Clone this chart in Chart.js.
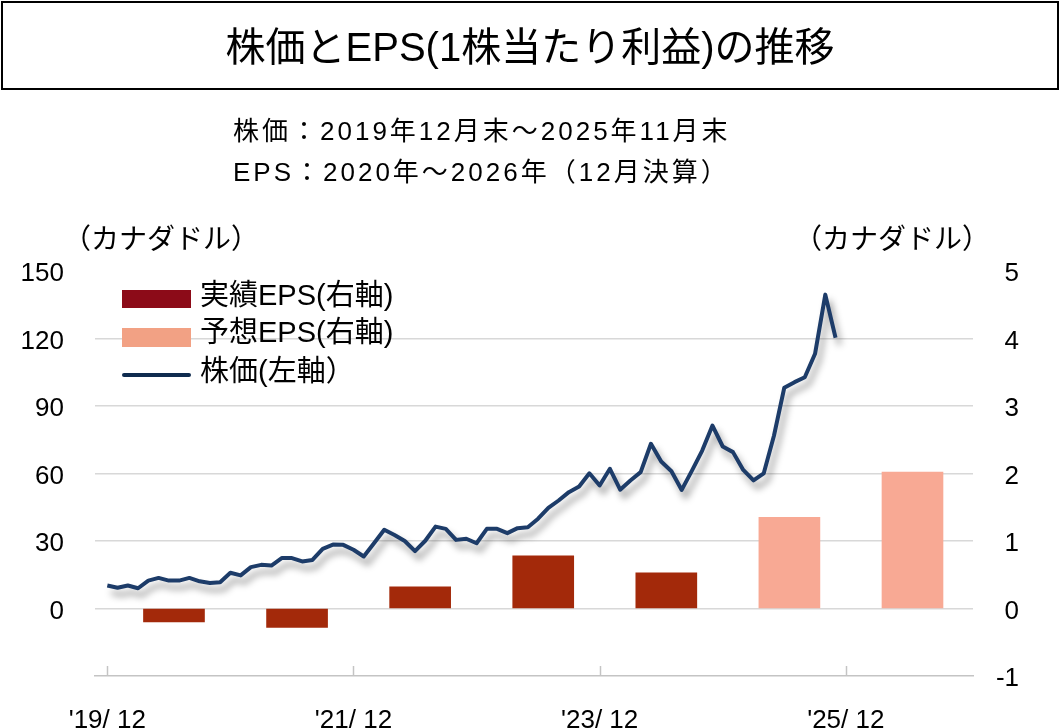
<!DOCTYPE html>
<html lang="ja">
<head>
<meta charset="utf-8">
<title>株価とEPS(1株当たり利益)の推移</title>
<script src="https://cdn.jsdelivr.net/npm/chart.js@4.4.1/dist/chart.umd.min.js"></script>
<style>
  html, body { margin: 0; padding: 0; background: #fff; }
  body { width: 1060px; height: 728px; overflow: hidden; position: relative;
         font-family: "Liberation Sans", "Noto Sans CJK JP", sans-serif; color: #000; }
  #chart { position: absolute; left: 0; top: 0; }
  .txt { position: absolute; white-space: nowrap; line-height: 1; }
  .title-box { position: absolute; left: 1px; top: 1px; width: 1054px; height: 85px;
               border: 2px solid #000; display: flex; align-items: center; justify-content: center;
               font-size: 40px; padding-bottom: 4px; box-sizing: content-box; }
  .sub { font-size: 26px; letter-spacing: 3px; left: 233px; }
  .unit { font-size: 28px; top: 226px; }
  .swatch { position: absolute; left: 122px; width: 69px; }
  .leg { font-size: 29px; left: 200px; }
</style>
</head>
<body>
<canvas id="chart" width="1060" height="728"></canvas>

<div class="title-box" style="height:81px">株価とEPS(1株当たり利益)の推移</div>
<div class="txt sub" style="top:118px">株価：2019年12月末～2025年11月末</div>
<div class="txt sub" style="top:159px">EPS：2020年～2026年（12月決算）</div>
<div class="txt unit" style="left:63px">（カナダドル）</div>
<div class="txt unit" style="left:794px">（カナダドル）</div>

<div class="swatch" style="top:290px;height:18px;background:#8c0b18"></div>
<div class="txt leg" style="top:281px">実績EPS(右軸)</div>
<div class="swatch" style="top:328px;height:19px;background:#f2a184"></div>
<div class="txt leg" style="top:318px">予想EPS(右軸)</div>
<div class="swatch" style="top:373px;height:4px;border-radius:2px;background:#0f2b4f"></div>
<div class="txt leg" style="top:357px">株価(左軸）</div>

<script>
// 月末株価（カナダドル）2019/12 〜 2025/11
const prices = [
  10.2, 9.2, 10.2, 9.0, 12.4, 13.6, 12.4, 12.4, 13.6, 12.1, 11.3, 11.7,
  15.9, 14.7, 18.4, 19.4, 19.1, 22.4, 22.4, 20.9, 21.6, 26.5, 28.4, 28.3,
  26.1, 23.1, 29.0, 35.0, 32.7, 30.0, 25.5, 30.1, 36.4, 35.4, 30.5, 31.0,
  29.0, 35.4, 35.4, 33.5, 35.7, 36.1, 39.9, 44.7, 48.0, 51.7, 54.2, 60.1,
  54.7, 62.1, 52.8, 56.9, 60.6, 73.2, 65.3, 61.0, 52.7, 61.3, 70.2, 81.3,
  72.0, 69.5, 61.6, 56.9, 60.1, 76.9, 98.1, 100.6, 102.8, 113.2, 139.5, 120.3
];

// EPS（カナダドル、12月決算）
const actualYears = [2020, 2021, 2022, 2023, 2024];
const epsActual = [-0.20, -0.28, 0.32, 0.78, 0.53];
const forecastYears = [2025, 2026];
const epsForecast = [1.35, 2.02];

// x軸の目盛（2019/12からの月数）と表示
const xTickMonths = [0, 24, 48, 72];
const xTickLabels = ["'19/ 12", "'21/ 12", "'23/ 12", "'25/ 12"];

const leftMin = -30, leftMax = 150, leftStep = 30;
const rightMin = -1, rightMax = 5, rightStep = 1;

// 年度EPSは年の中ほどに置く
const yearToX = y => (y - 2020) * 12 + 6.5;

const FONT = '"Liberation Sans", "Noto Sans CJK JP", sans-serif';
Chart.defaults.font.family = FONT;
Chart.defaults.color = '#000';

const lineShadow = {
  id: 'lineShadow',
  beforeDatasetDraw(chart, args) {
    if (args.index !== 0) return;
    const ctx = chart.ctx;
    ctx.save();
    ctx.shadowColor = 'rgba(0,0,0,0.38)';
    ctx.shadowBlur = 7;
    ctx.shadowOffsetX = 4;
    ctx.shadowOffsetY = 7;
  },
  afterDatasetDraw(chart, args) {
    if (args.index !== 0) return;
    chart.ctx.restore();
  }
};

// 下の軸の内向き目盛
const innerTicks = {
  id: 'innerTicks',
  afterDraw(chart) {
    const ctx = chart.ctx;
    const xs = chart.scales.x;
    const bottom = chart.chartArea.bottom;
    ctx.save();
    ctx.strokeStyle = '#c4c4c4';
    ctx.lineWidth = 1.5;
    xTickMonths.forEach(m => {
      const px = Math.round(xs.getPixelForValue(m)) + 0.5;
      ctx.beginPath();
      ctx.moveTo(px, bottom);
      ctx.lineTo(px, bottom - 10);
      ctx.stroke();
    });
    ctx.restore();
  }
};

new Chart(document.getElementById('chart'), {
  type: 'bar',
  data: {
    datasets: [
      {
        type: 'line',
        label: '株価(左軸）',
        data: prices.map((p, i) => ({ x: i, y: p })),
        yAxisID: 'y',
        borderColor: '#1d3c69',
        borderWidth: 4,
        pointRadius: 0,
        tension: 0,
        borderJoinStyle: 'round',
        order: 0
      },
      {
        label: '実績EPS(右軸)',
        data: actualYears.map((y, i) => ({ x: yearToX(y), y: epsActual[i] })),
        yAxisID: 'y1',
        backgroundColor: '#a3290a',
        barThickness: 61,
        grouped: false,
        order: 1
      },
      {
        label: '予想EPS(右軸)',
        data: forecastYears.map((y, i) => ({ x: yearToX(y), y: epsForecast[i] })),
        yAxisID: 'y1',
        backgroundColor: '#f8a994',
        barThickness: 61,
        grouped: false,
        order: 1
      }
    ]
  },
  options: {
    responsive: false,
    animation: false,
    layout: { padding: { top: 271, left: 0, right: 41, bottom: 0 } },
    plugins: {
      legend: { display: false },
      tooltip: { enabled: false }
    },
    scales: {
      x: {
        type: 'linear',
        min: -1.2,
        max: 84.4,
        offset: false,
        afterBuildTicks: s => { s.ticks = xTickMonths.map(v => ({ value: v })); },
        afterFit: s => { s.height = 52; },
        ticks: {
          font: { size: 26 },
          padding: 29,
          maxRotation: 0,
          autoSkip: false,
          callback: v => xTickLabels[xTickMonths.indexOf(v)] ?? ''
        },
        grid: { drawOnChartArea: false, drawTicks: false },
        border: { color: '#c4c4c4', width: 1.5 }
      },
      y: {
        position: 'left',
        min: leftMin,
        max: leftMax,
        afterFit: s => { s.width = 95; },
        ticks: {
          stepSize: leftStep,
          font: { size: 26 },
          padding: 31,
          labelOffset: 3,
          callback: v => (v < 0 ? '' : v)
        },
        grid: {
          drawTicks: false,
          lineWidth: 1.5,
          color: c => (c.tick.value === leftMin || c.tick.value === leftMax) ? 'rgba(0,0,0,0)' : '#d8d8d8'
        },
        border: { display: false }
      },
      y1: {
        position: 'right',
        min: rightMin,
        max: rightMax,
        afterFit: s => { s.width = 46; },
        ticks: {
          stepSize: rightStep,
          font: { size: 26 },
          padding: 0,
          crossAlign: 'far',
          labelOffset: 3
        },
        grid: { drawOnChartArea: false, drawTicks: false },
        border: { display: false }
      }
    }
  },
  plugins: [lineShadow, innerTicks]
});
</script>
</body>
</html>
